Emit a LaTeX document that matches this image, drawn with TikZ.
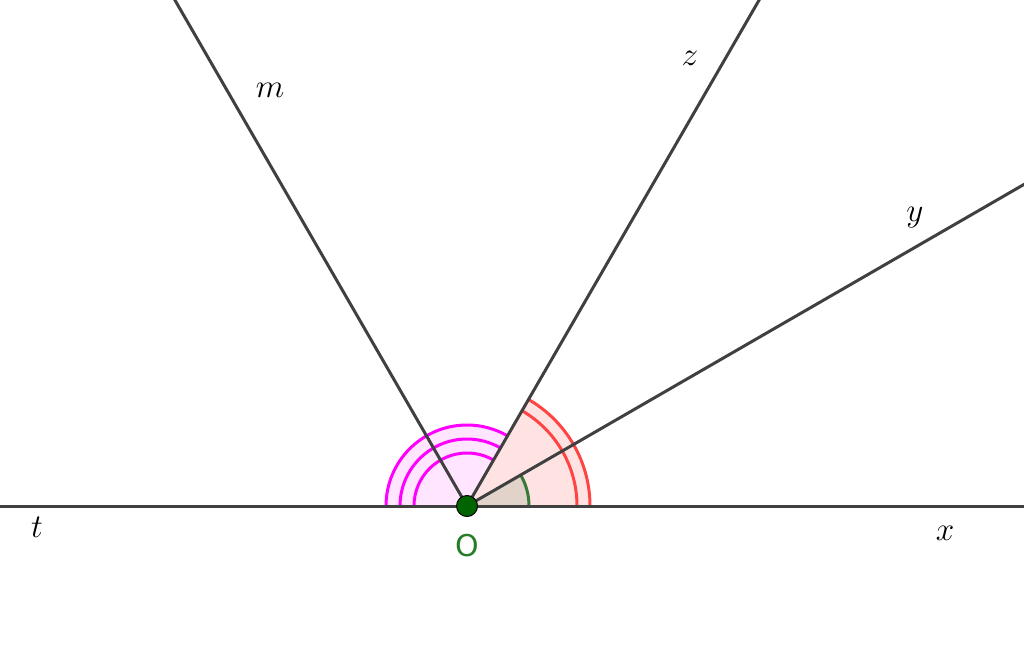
\documentclass[tikz,border=0pt]{standalone}
\usepackage{fontspec}
\setsansfont{DejaVu Sans}
\usetikzlibrary{calc}
\definecolor{raycol}{RGB}{64,64,64}
\definecolor{magcol}{RGB}{255,0,255}
\definecolor{redcol}{RGB}{255,68,68}
\definecolor{grncol}{RGB}{56,120,56}
\definecolor{ptcol}{RGB}{0,100,0}
\definecolor{olbl}{RGB}{40,125,40}
\begin{document}
\begin{tikzpicture}[x=1pt,y=-1pt,
  ray/.style={draw=raycol, line width=3pt},
  lbl/.style={font=\fontsize{20}{24}\selectfont, scale=1.6},
  magarc/.style={draw=magcol, line width=3pt},
  redarc/.style={draw=redcol, line width=3pt},
  grnarc/.style={draw=grncol, line width=3pt}]
\useasboundingbox (0,0) rectangle (1024,663);
\clip (0,0) rectangle (1024,663);
\coordinate (O) at (467,506);
\coordinate (T) at (0,506);
\coordinate (X) at (1024,506);
\coordinate (M) at ($(O)+(-120:640)$);
\coordinate (Z) at ($(O)+(-60:640)$);
\coordinate (Y) at ($(O)+(-30:700)$);
% fills
\fill[magcol, opacity=0.1] (O) -- ++(-81,0) arc[start angle=-180, end angle=-60, radius=81] -- cycle;
\path[fill=redcol, opacity=0.15] (O) -- ++(123,0) arc[start angle=0, end angle=-60, radius=123] -- cycle;
\path[fill=grncol, opacity=0.15] (O) -- ++(62,0) arc[start angle=0, end angle=-30, radius=62] -- cycle;
% arcs
\foreach \r in {81,67,53}{
  \draw[magarc] ($(O)+(-\r,0)$) arc[start angle=-180, end angle=-60, radius=\r];
}
\foreach \r in {110,123}{
  \draw[redarc] ($(O)+(\r,0)$) arc[start angle=0, end angle=-60, radius=\r];
}
\draw[grnarc] ($(O)+(62,0)$) arc[start angle=0, end angle=-30, radius=62];
% rays
\draw[ray] (T) -- (X);
\draw[ray] (O) -- (M);
\draw[ray] (O) -- (Z);
\draw[ray] (O) -- (Y);
% point
\node[circle, fill=ptcol, draw=black, line width=1pt, minimum size=21pt, inner sep=0pt] (Opt) at (O) {};
% labels
\node[lbl] (lm) at (270,90) {$m$};
\node[lbl] (lz) at (690,58) {$z$};
\node[lbl] (ly) at (915,218) {$y$};
\node[lbl] (lt) at (37,527) {$t$};
\node[lbl] (lx) at (945,533) {$x$};
\node[font=\sffamily\fontsize{20}{24}\selectfont, scale=1.5, text=olbl] (lO) at (467,546) {O};
\end{tikzpicture}
\end{document}
